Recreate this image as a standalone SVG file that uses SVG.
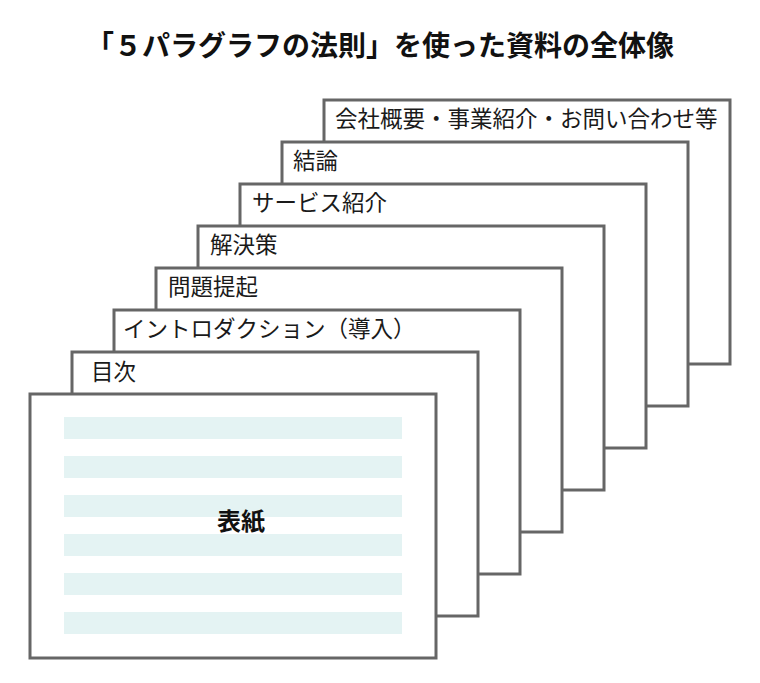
<svg xmlns="http://www.w3.org/2000/svg" width="760" height="683" viewBox="0 0 760 683">
<style>
.page{fill:#fff;stroke:#666;stroke-width:3}
.lbl{font-family:"Noto Sans CJK JP","Noto Sans",sans-serif;font-size:22.5px;fill:#1a1a1a}
.title{font-family:"Noto Sans CJK JP","Noto Sans",sans-serif;font-size:28px;font-weight:bold;fill:#111}
.stripe{fill:#e4f3f3}
.cover{font-family:"Noto Sans CJK JP","Noto Sans",sans-serif;font-size:24px;font-weight:bold;fill:#111}
</style>
<rect width="760" height="683" fill="#fff"/>
<text class="title" x="380" y="56" text-anchor="middle">「５パラグラフの法則」を使った資料の全体像</text>
<g id="p7"><rect class="page" x="324" y="100" width="406" height="264"/><text class="lbl" x="335" y="127">会社概要・事業紹介・お問い合わせ等</text></g>
<g id="p6"><rect class="page" x="282" y="142" width="406" height="264"/><text class="lbl" x="293" y="169">結論</text></g>
<g id="p5"><rect class="page" x="240" y="184" width="406" height="264"/><text class="lbl" x="252" y="211">サービス紹介</text></g>
<g id="p4"><rect class="page" x="198" y="226" width="406" height="264"/><text class="lbl" x="210" y="253">解決策</text></g>
<g id="p3"><rect class="page" x="156" y="268" width="406" height="264"/><text class="lbl" x="168" y="295">問題提起</text></g>
<g id="p2"><rect class="page" x="114" y="310" width="406" height="264"/><text class="lbl" x="123" y="337">イントロダクション（導入）</text></g>
<g id="p1"><rect class="page" x="72" y="352" width="406" height="264"/><text class="lbl" x="91" y="380">目次</text></g>
<g id="p0">
<rect class="page" x="30" y="394" width="406" height="264"/>
<rect class="stripe" x="64" y="417" width="338" height="22"/>
<rect class="stripe" x="64" y="456" width="338" height="22"/>
<rect class="stripe" x="64" y="495" width="338" height="22"/>
<rect class="stripe" x="64" y="534" width="338" height="22"/>
<rect class="stripe" x="64" y="573" width="338" height="22"/>
<rect class="stripe" x="64" y="612" width="338" height="22"/>
<text class="cover" x="241" y="530" text-anchor="middle">表紙</text>
</g>
</svg>
